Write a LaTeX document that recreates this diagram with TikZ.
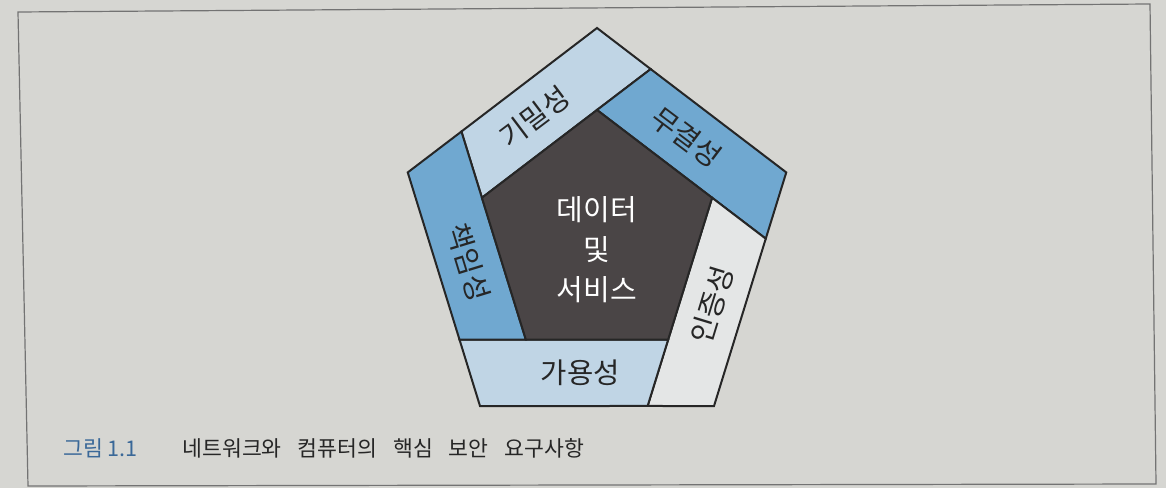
\documentclass[tikz,border=0pt]{standalone}
\usepackage{fontspec}
\setmainfont{Noto Sans CJK KR}
\usetikzlibrary{calc}

\definecolor{paper}{RGB}{214,214,210}
\definecolor{lightblue}{RGB}{192,213,229}
\definecolor{midblue}{RGB}{112,168,208}
\definecolor{offwhite}{RGB}{228,230,230}
\definecolor{core}{RGB}{74,69,70}
\definecolor{capblue}{RGB}{58,104,152}

\tikzset{
  piece/.style={draw=black!85, line width=1pt, line join=miter},
  lbl/.style={font=\fontsize{14.3}{16}\selectfont, text=black!85, inner sep=0pt},
  caption/.style={anchor=base west, inner sep=0pt, font=\fontsize{10.8}{13}\selectfont},
}

\begin{document}
\begin{tikzpicture}[x=0.5pt, y=0.5pt]
  \useasboundingbox (0,0) rectangle (1166,488);
  \fill[paper] (0,0) rectangle (1166,488);
  \draw[black!55, line width=0.6pt] (18,476) -- (1150,484) -- (1156,4) -- (28,2) -- cycle;

  % outer and inner pentagon corners
  \begin{scope}[shift={(597,251)}]
    \foreach \i/\a in {1/90, 2/18, 3/-54, 4/-126, 5/162} {
      \coordinate (o\i) at (\a:199 and 209);
      \coordinate (v\i) at (\a:121 and 127);
    }
  \end{scope}
  \foreach \a/\b in {5/1, 1/2, 2/3, 3/4, 4/5}
    \coordinate (p\b) at ($(v\a)!1.4664!(v\b)$);

  \filldraw[piece, fill=lightblue] (v5) -- (v1) -- (p1) -- (o1) -- (p5) -- cycle;
  \filldraw[piece, fill=midblue] (v1) -- (v2) -- (p2) -- (o2) -- (p1) -- cycle;
  \filldraw[piece, fill=offwhite] (v2) -- (v3) -- (p3) -- (o3) -- (p2) -- cycle;
  \filldraw[piece, fill=lightblue] (v3) -- (v4) -- (p4) -- (o4) -- (p3) -- cycle;
  \filldraw[piece, fill=midblue] (v4) -- (v5) -- (p5) -- (o5) -- (p4) -- cycle;
  \filldraw[piece, fill=core] (v1) -- (v2) -- (v3) -- (v4) -- (v5) -- cycle;

  \node[lbl, rotate=37] (conf) at ($.25*(v5)+.25*(v1)+.25*(p5)+.25*(o1)$) {기밀성};
  \node[lbl, rotate=-37] (integ) at ($.25*(v1)+.25*(v2)+.25*(p1)+.25*(o2)$) {무결성};
  \node[lbl, rotate=73] (auth) at ($.22*(v2)+.28*(v3)+.22*(p2)+.28*(o3)$) {인증성};
  \node[lbl] (avail) at ($.25*(v3)+.25*(v4)+.25*(p3)+.25*(o4)$) {가용성};
  \node[lbl, rotate=-73] (acct) at ($.25*(v4)+.25*(v5)+.25*(p4)+.25*(o5)$) {책임성};

  \node[lbl, text=white, align=center, font=\fontsize{14.5}{20}\selectfont] (data) at (597,238) {데이터\\및\\서비스};

  \node[caption, text=capblue] (figno) at (63,32) {그림 1.1};
  \node[caption, text=black!85] (figtitle) at (182,32) {네트워크와\hspace{8pt}컴퓨터의\hspace{8pt}핵심\hspace{8pt}보안\hspace{8pt}요구사항};
\end{tikzpicture}
\end{document}
